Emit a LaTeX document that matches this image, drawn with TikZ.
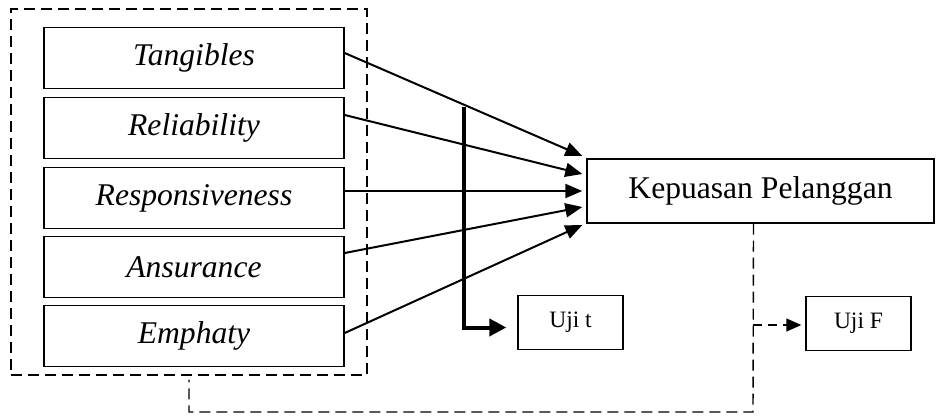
\documentclass[tikz,border=0pt]{standalone}
\usepackage{fontspec}
\setmainfont{Liberation Serif}
\usetikzlibrary{arrows.meta,calc}
\begin{document}
\begin{tikzpicture}[x=1pt,y=-1pt,
  dimbox/.style={draw,line width=1.4pt,minimum width=300pt,minimum height=61pt,inner sep=0pt,
    font=\fontsize{31.6}{36}\selectfont\itshape},
  smallbox/.style={draw,line width=1.4pt,minimum width=105pt,minimum height=54pt,inner sep=0pt,
    font=\fontsize{23.5}{28}\selectfont},
  dashline/.style={line width=1.4pt,dash pattern=on 11pt off 6pt},
  conn/.style={line width=2pt,-{Triangle[length=17pt,width=14pt]}},
]
\useasboundingbox (0,0) rectangle (936,415);
\node[draw,dashline,minimum width=356pt,minimum height=366pt] (outer) at (189,192) {};
\node[dimbox] (t) at (194,58) {Tangibles};
\node[dimbox] (r) at (194,128) {Reliability};
\node[dimbox] (s) at (194,198) {Responsiveness};
\node[dimbox] (a) at (194,267) {Ansurance};
\node[dimbox] (e) at (194,336) {Emphaty};
\node[draw,line width=1.4pt,minimum width=347pt,minimum height=64pt,inner sep=0pt,
  font=\fontsize{31.6}{36}\selectfont] (k) at (760.5,191) {Kepuasan Pelanggan};
\node[smallbox] (ut) at (570.5,322.5) {Uji t};
\node[smallbox] (uf) at (858.5,323.5) {Uji F};

\draw[conn] ($(t.east)+(0,-5)$) -- ($(k.west)+(-4,-35)$);
\draw[conn] ($(r.east)+(0,-13)$) -- ($(k.west)+(-4,-17)$);
\draw[conn] ($(s.east)+(0,-7)$) -- ($(k.west)+(-4,0)$);
\draw[conn] ($(a.east)+(0,-14)$) -- ($(k.west)+(-4,16)$);
\draw[conn] ($(e.east)+(0,-3)$) -- ($(k.west)+(-4,34)$);

\coordinate (tk) at (464,107);
\draw[line width=4pt,-{Triangle[length=17pt,width=17pt]}] (tk) |- ($(ut.west)+(-11,5)$);

\coordinate (kb) at ($(k.south)+(-7,0)$);
\coordinate (br) at (753,412);
\draw[dashline] (kb) -- (br) -| ($(outer.south)+(0,4)$);
\coordinate (fb) at (753,325);
\draw[line width=1.4pt,dash pattern=on 9pt off 6pt,-{Triangle[length=15pt,width=13pt]}] (fb) -- ($(uf.west)+(-4,1.5)$);
\end{tikzpicture}
\end{document}
